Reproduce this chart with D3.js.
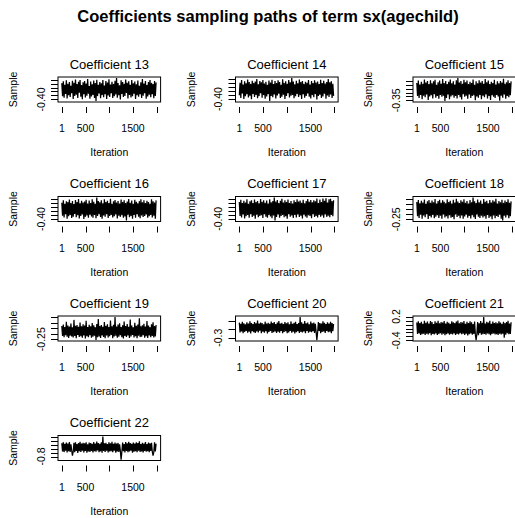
<!DOCTYPE html>
<html>
<head>
<meta charset="utf-8">
<script src="https://cdn.jsdelivr.net/npm/d3@7"></script>
<style>
  html, body { margin: 0; padding: 0; background: #fff; }
  svg { display: block; }
  text { font-family: "Liberation Sans", Arial, sans-serif; fill: #000; }
</style>
</head>
<body>
<script>
// MCMC trace plots: sampled coefficients of the smooth term, 4 x 3 grid.
const mainTitle = "Coefficients sampling paths of term sx(agechild)";
const coefficients = [13, 14, 15, 16, 17, 18, 19, 20, 21, 22];

// Stored (thinned) iteration indices of the chain.
const iterations = d3.range(1, 2001, 16);
const xTicks = [1, 500, 1000, 1500, 2000];
const xTickLabels = ["1", "500", "", "1500", ""];

const samples13 = [-0.318,-0.384,-0.309,-0.391,-0.326,-0.372,-0.304,-0.395,-0.321,-0.379,
  -0.313,-0.388,-0.331,-0.369,-0.306,-0.398,-0.316,-0.382,-0.300,-0.376,
  -0.323,-0.393,-0.311,-0.366,-0.302,-0.386,-0.328,-0.399,-0.314,-0.374,
  -0.307,-0.390,-0.320,-0.381,-0.297,-0.371,-0.333,-0.396,-0.310,-0.385,
  -0.324,-0.377,-0.305,-0.392,-0.317,-0.408,-0.301,-0.383,-0.327,-0.370,
  -0.312,-0.394,-0.319,-0.378,-0.303,-0.389,-0.330,-0.373,-0.308,-0.397,
  -0.315,-0.380,-0.299,-0.387,-0.325,-0.368,-0.311,-0.393,-0.322,-0.384,
  -0.306,-0.375,-0.292,-0.391,-0.318,-0.379,-0.329,-0.400,-0.304,-0.372,
  -0.313,-0.388,-0.321,-0.382,-0.300,-0.367,-0.316,-0.395,-0.309,-0.377,
  -0.326,-0.390,-0.302,-0.384,-0.319,-0.371,-0.310,-0.398,-0.324,-0.379,
  -0.305,-0.386,-0.332,-0.374,-0.314,-0.392,-0.298,-0.381,-0.320,-0.369,
  -0.308,-0.396,-0.327,-0.385,-0.312,-0.376,-0.303,-0.389,-0.317,-0.373,
  -0.323,-0.394,-0.307,-0.383,-0.315];
const samples14 = [-0.381,-0.318,-0.395,-0.305,-0.372,-0.327,-0.399,-0.311,-0.386,-0.321,
  -0.376,-0.302,-0.392,-0.315,-0.383,-0.324,-0.401,-0.308,-0.374,-0.319,
  -0.389,-0.312,-0.379,-0.300,-0.396,-0.326,-0.385,-0.309,-0.370,-0.316,
  -0.393,-0.304,-0.380,-0.322,-0.398,-0.313,-0.387,-0.329,-0.375,-0.307,
  -0.410,-0.317,-0.384,-0.303,-0.391,-0.325,-0.377,-0.310,-0.397,-0.320,
  -0.382,-0.306,-0.373,-0.314,-0.394,-0.328,-0.388,-0.301,-0.378,-0.319,
  -0.400,-0.311,-0.385,-0.323,-0.371,-0.305,-0.392,-0.316,-0.383,-0.294,
  -0.379,-0.312,-0.396,-0.326,-0.386,-0.308,-0.374,-0.321,-0.390,-0.302,
  -0.381,-0.315,-0.399,-0.309,-0.376,-0.324,-0.393,-0.313,-0.384,-0.318,
  -0.372,-0.304,-0.388,-0.327,-0.397,-0.310,-0.380,-0.320,-0.391,-0.306,
  -0.375,-0.317,-0.402,-0.312,-0.385,-0.325,-0.378,-0.303,-0.394,-0.319,
  -0.387,-0.308,-0.373,-0.322,-0.398,-0.314,-0.382,-0.300,-0.389,-0.316,
  -0.377,-0.311,-0.395,-0.323,-0.384];
const samples15 = [-0.305,-0.339,-0.299,-0.344,-0.309,-0.336,-0.302,-0.347,-0.307,-0.338,
  -0.296,-0.342,-0.304,-0.335,-0.300,-0.349,-0.308,-0.340,-0.298,-0.337,
  -0.306,-0.345,-0.301,-0.334,-0.297,-0.343,-0.310,-0.339,-0.303,-0.346,
  -0.299,-0.336,-0.307,-0.341,-0.295,-0.338,-0.305,-0.352,-0.300,-0.344,
  -0.308,-0.335,-0.302,-0.347,-0.296,-0.340,-0.306,-0.337,-0.301,-0.343,
  -0.309,-0.339,-0.298,-0.345,-0.292,-0.336,-0.304,-0.342,-0.300,-0.348,
  -0.307,-0.334,-0.297,-0.341,-0.303,-0.338,-0.299,-0.346,-0.308,-0.335,
  -0.302,-0.344,-0.305,-0.339,-0.296,-0.337,-0.310,-0.350,-0.301,-0.340,
  -0.306,-0.343,-0.298,-0.336,-0.304,-0.347,-0.300,-0.338,-0.307,-0.342,
  -0.295,-0.335,-0.303,-0.345,-0.299,-0.339,-0.308,-0.349,-0.302,-0.337,
  -0.305,-0.341,-0.297,-0.344,-0.309,-0.336,-0.301,-0.340,-0.306,-0.351,
  -0.300,-0.338,-0.304,-0.343,-0.294,-0.335,-0.307,-0.346,-0.303,-0.339,
  -0.298,-0.342,-0.305,-0.337,-0.301];
const samples16 = [-0.317,-0.383,-0.305,-0.392,-0.322,-0.376,-0.310,-0.398,-0.314,-0.386,
  -0.301,-0.379,-0.319,-0.395,-0.308,-0.388,-0.324,-0.374,-0.303,-0.391,
  -0.313,-0.381,-0.298,-0.397,-0.320,-0.385,-0.307,-0.377,-0.316,-0.400,
  -0.311,-0.389,-0.302,-0.382,-0.321,-0.394,-0.306,-0.378,-0.318,-0.387,
  -0.299,-0.393,-0.312,-0.380,-0.323,-0.396,-0.290,-0.384,-0.309,-0.375,
  -0.315,-0.390,-0.304,-0.399,-0.320,-0.382,-0.300,-0.388,-0.313,-0.376,
  -0.307,-0.395,-0.318,-0.385,-0.297,-0.379,-0.322,-0.392,-0.310,-0.386,
  -0.303,-0.377,-0.316,-0.397,-0.308,-0.383,-0.321,-0.389,-0.301,-0.381,
  -0.314,-0.394,-0.305,-0.387,-0.319,-0.408,-0.311,-0.378,-0.298,-0.391,
  -0.317,-0.384,-0.306,-0.399,-0.323,-0.380,-0.302,-0.393,-0.312,-0.376,
  -0.320,-0.388,-0.309,-0.396,-0.300,-0.382,-0.315,-0.390,-0.304,-0.385,
  -0.318,-0.377,-0.307,-0.394,-0.313,-0.386,-0.322,-0.379,-0.299,-0.392,
  -0.310,-0.383,-0.316,-0.398,-0.305];
const samples17 = [-0.314,-0.385,-0.303,-0.393,-0.320,-0.378,-0.308,-0.398,-0.317,-0.387,
  -0.300,-0.381,-0.323,-0.395,-0.311,-0.376,-0.306,-0.390,-0.319,-0.384,
  -0.302,-0.399,-0.315,-0.379,-0.309,-0.392,-0.321,-0.386,-0.299,-0.382,
  -0.313,-0.396,-0.305,-0.377,-0.318,-0.389,-0.307,-0.394,-0.322,-0.380,
  -0.301,-0.388,-0.316,-0.397,-0.310,-0.383,-0.291,-0.409,-0.312,-0.391,
  -0.304,-0.378,-0.320,-0.395,-0.308,-0.385,-0.298,-0.380,-0.317,-0.392,
  -0.306,-0.387,-0.314,-0.400,-0.302,-0.376,-0.319,-0.389,-0.310,-0.383,
  -0.322,-0.396,-0.305,-0.381,-0.315,-0.393,-0.300,-0.378,-0.312,-0.390,
  -0.307,-0.384,-0.318,-0.398,-0.303,-0.379,-0.321,-0.388,-0.309,-0.394,
  -0.299,-0.382,-0.313,-0.386,-0.304,-0.397,-0.316,-0.377,-0.306,-0.391,
  -0.311,-0.385,-0.297,-0.393,-0.319,-0.380,-0.302,-0.389,-0.314,-0.383,
  -0.296,-0.395,-0.308,-0.378,-0.295,-0.390,-0.317,-0.384,-0.301,-0.392,
  -0.298,-0.381,-0.310,-0.387,-0.305];
const samples18 = [-0.082,-0.221,-0.064,-0.236,-0.095,-0.205,-0.071,-0.243,-0.088,-0.213,
  -0.058,-0.229,-0.099,-0.201,-0.076,-0.247,-0.062,-0.218,-0.091,-0.233,
  -0.069,-0.207,-0.085,-0.240,-0.053,-0.224,-0.097,-0.211,-0.074,-0.238,
  -0.060,-0.215,-0.089,-0.245,-0.066,-0.203,-0.079,-0.231,-0.094,-0.219,
  -0.056,-0.242,-0.083,-0.209,-0.070,-0.234,-0.098,-0.226,-0.061,-0.249,
  -0.087,-0.204,-0.050,-0.228,-0.077,-0.216,-0.093,-0.239,-0.065,-0.212,
  -0.081,-0.244,-0.057,-0.222,-0.090,-0.206,-0.072,-0.235,-0.096,-0.217,
  -0.063,-0.241,-0.084,-0.210,-0.038,-0.230,-0.075,-0.246,-0.092,-0.202,
  -0.059,-0.225,-0.086,-0.237,-0.068,-0.214,-0.099,-0.232,-0.054,-0.220,
  -0.080,-0.243,-0.071,-0.208,-0.094,-0.236,-0.062,-0.223,-0.088,-0.248,
  -0.066,-0.212,-0.078,-0.239,-0.052,-0.218,-0.097,-0.227,-0.073,-0.205,
  -0.085,-0.244,-0.060,-0.262,-0.091,-0.215,-0.069,-0.233,-0.082,-0.209,
  -0.057,-0.240,-0.089,-0.221,-0.076];
const samples19 = [-0.131,-0.221,-0.118,-0.233,-0.140,-0.214,-0.092,-0.228,-0.126,-0.239,
  -0.136,-0.218,-0.109,-0.226,-0.142,-0.235,-0.075,-0.220,-0.129,-0.241,
  -0.121,-0.212,-0.138,-0.230,-0.098,-0.224,-0.133,-0.237,-0.115,-0.216,
  -0.127,-0.243,-0.084,-0.222,-0.139,-0.231,-0.119,-0.213,-0.134,-0.236,
  -0.104,-0.227,-0.125,-0.219,-0.141,-0.258,-0.112,-0.232,-0.066,-0.225,
  -0.130,-0.238,-0.122,-0.215,-0.137,-0.229,-0.095,-0.242,-0.128,-0.217,
  -0.114,-0.234,-0.140,-0.223,-0.081,-0.211,-0.132,-0.240,-0.120,-0.226,
  -0.048,-0.219,-0.135,-0.236,-0.117,-0.228,-0.106,-0.214,-0.139,-0.233,
  -0.124,-0.244,-0.089,-0.221,-0.131,-0.230,-0.113,-0.216,-0.137,-0.238,
  -0.072,-0.225,-0.127,-0.212,-0.142,-0.235,-0.101,-0.222,-0.129,-0.241,
  -0.118,-0.218,-0.060,-0.231,-0.134,-0.227,-0.123,-0.213,-0.110,-0.237,
  -0.136,-0.224,-0.086,-0.239,-0.126,-0.215,-0.141,-0.232,-0.115,-0.220,
  -0.097,-0.234,-0.130,-0.226,-0.121];
const samples20 = [-0.121,-0.236,-0.134,-0.224,-0.112,-0.245,-0.128,-0.230,-0.140,-0.219,
  -0.117,-0.240,-0.131,-0.227,-0.106,-0.248,-0.125,-0.221,-0.137,-0.234,
  -0.114,-0.243,-0.129,-0.226,-0.098,-0.238,-0.133,-0.217,-0.119,-0.246,
  -0.126,-0.229,-0.141,-0.241,-0.110,-0.222,-0.132,-0.250,-0.123,-0.232,
  -0.136,-0.219,-0.108,-0.244,-0.127,-0.235,-0.115,-0.225,-0.139,-0.242,
  -0.120,-0.228,-0.102,-0.239,-0.131,-0.220,-0.124,-0.247,-0.137,-0.231,
  -0.113,-0.223,-0.129,-0.245,-0.118,-0.236,-0.142,-0.218,-0.107,-0.240,
  -0.134,-0.227,-0.122,-0.249,-0.111,-0.233,-0.138,-0.221,-0.126,-0.243,
  -0.054,-0.230,-0.116,-0.237,-0.135,-0.224,-0.103,-0.246,-0.128,-0.219,
  -0.119,-0.241,-0.140,-0.229,-0.109,-0.234,-0.130,-0.222,-0.121,-0.244,
  -0.136,-0.226,-0.327,-0.238,-0.114,-0.220,-0.127,-0.247,-0.133,-0.232,
  -0.105,-0.225,-0.124,-0.242,-0.139,-0.218,-0.117,-0.235,-0.131,-0.228,
  -0.112,-0.245,-0.125,-0.223,-0.137];
const samples21 = [0.052,-0.238,0.081,-0.221,0.034,-0.259,0.067,-0.244,0.018,-0.228,
  0.092,-0.265,0.045,-0.232,0.073,-0.250,0.026,-0.219,0.085,-0.271,
  0.059,-0.236,0.011,-0.247,0.078,-0.225,0.040,-0.262,0.096,-0.240,
  0.031,-0.216,0.064,-0.255,0.050,-0.230,0.088,-0.268,0.022,-0.243,
  0.070,-0.227,0.043,-0.258,0.015,-0.235,0.083,-0.249,0.056,-0.222,
  0.036,-0.264,0.075,-0.239,0.101,-0.252,0.028,-0.218,0.062,-0.246,
  0.047,-0.233,0.090,-0.260,0.020,-0.229,0.069,-0.273,0.038,-0.241,
  0.080,-0.224,0.054,-0.256,0.013,-0.237,0.072,-0.248,-0.390,-0.231,
  0.060,-0.266,0.033,-0.220,0.087,-0.253,0.044,-0.242,0.190,-0.234,
  0.025,-0.257,0.066,-0.226,0.051,-0.245,0.094,-0.269,0.017,-0.236,
  0.077,-0.223,0.039,-0.251,0.058,-0.240,0.029,-0.263,0.082,-0.228,
  0.048,-0.247,0.016,-0.232,0.071,-0.330,0.035,-0.254,0.063,-0.221,
  0.091,-0.244,0.024,-0.238,0.055];
const samples22 = [-0.468,-0.672,-0.441,-0.689,-0.483,-0.655,-0.452,-0.701,-0.475,-0.664,
  -0.437,-0.683,-0.496,-0.648,-0.780,-0.677,-0.459,-0.694,-0.446,-0.660,
  -0.488,-0.712,-0.463,-0.669,-0.432,-0.686,-0.478,-0.652,-0.455,-0.697,
  -0.471,-0.663,-0.443,-0.705,-0.492,-0.674,-0.450,-0.688,-0.466,-0.658,
  -0.485,-0.699,-0.439,-0.667,-0.476,-0.681,-0.425,-0.650,-0.461,-0.693,
  -0.480,-0.670,-0.447,-0.708,-0.297,-0.661,-0.470,-0.684,-0.456,-0.654,
  -0.490,-0.696,-0.442,-0.676,-0.467,-0.665,-0.434,-0.690,-0.482,-0.657,
  -0.453,-0.703,-0.474,-0.671,-0.460,-0.687,-0.494,-0.659,-0.877,-0.680,
  -0.448,-0.668,-0.487,-0.698,-0.438,-0.662,-0.472,-0.692,-0.429,-0.675,
  -0.465,-0.653,-0.484,-0.706,-0.451,-0.679,-0.477,-0.666,-0.444,-0.691,
  -0.462,-0.656,-0.420,-0.685,-0.489,-0.673,-0.457,-0.700,-0.473,-0.663,
  -0.440,-0.682,-0.486,-0.669,-0.449,-0.694,-0.469,-0.660,-0.458,-0.677,
  -0.780,-0.688,-0.445,-0.672,-0.481];

// y-axis ticks for each panel; only labels that do not collide are printed
const yTicks13 = [-0.40, -0.38, -0.36, -0.34, -0.32, -0.30];
const yTicks14 = [-0.40, -0.38, -0.36, -0.34, -0.32, -0.30];
const yTicks15 = [-0.35, -0.34, -0.33, -0.32, -0.31, -0.30];
const yTicks16 = [-0.40, -0.38, -0.36, -0.34, -0.32, -0.30];
const yTicks17 = [-0.40, -0.38, -0.36, -0.34, -0.32, -0.30];
const yTicks18 = [-0.25, -0.20, -0.15, -0.10, -0.05];
const yTicks19 = [-0.25, -0.20, -0.15, -0.10, -0.05];
const yTicks20 = [-0.3, -0.2, -0.1];
const yTicks21 = [-0.4, -0.3, -0.2, -0.1, 0.0, 0.1, 0.2];
const yTicks22 = [-0.8, -0.7, -0.6, -0.5, -0.4, -0.3];
const yTickLabels13 = ["-0.40", "", "", "", "", ""];
const yTickLabels14 = ["-0.40", "", "", "", "", ""];
const yTickLabels15 = ["-0.35", "", "", "", "", ""];
const yTickLabels16 = ["-0.40", "", "", "", "", ""];
const yTickLabels17 = ["-0.40", "", "", "", "", ""];
const yTickLabels18 = ["-0.25", "", "", "", ""];
const yTickLabels19 = ["-0.25", "", "", "", ""];
const yTickLabels20 = ["-0.3", "", ""];
const yTickLabels21 = ["-0.4", "", "", "", "", "", "0.2"];
const yTickLabels22 = ["-0.8", "", "", "", "", ""];

const panels = [
  { coef: 13, values: samples13, ticks: yTicks13, labels: yTickLabels13 },
  { coef: 14, values: samples14, ticks: yTicks14, labels: yTickLabels14 },
  { coef: 15, values: samples15, ticks: yTicks15, labels: yTickLabels15 },
  { coef: 16, values: samples16, ticks: yTicks16, labels: yTickLabels16 },
  { coef: 17, values: samples17, ticks: yTicks17, labels: yTickLabels17 },
  { coef: 18, values: samples18, ticks: yTicks18, labels: yTickLabels18 },
  { coef: 19, values: samples19, ticks: yTicks19, labels: yTickLabels19 },
  { coef: 20, values: samples20, ticks: yTicks20, labels: yTickLabels20 },
  { coef: 21, values: samples21, ticks: yTicks21, labels: yTickLabels21 },
  { coef: 22, values: samples22, ticks: yTicks22, labels: yTickLabels22 }
];

// ---- layout ----
const W = 515, H = 518;
const colStep = 177.5, rowStep = 119.5;
const boxLeft0 = 58, boxTop0 = 77;
const boxW = 102.6, boxH = 25;

const svg = d3.select("body").append("svg")
  .attr("width", W).attr("height", H)
  .attr("viewBox", `0 0 ${W} ${H}`);
svg.append("rect").attr("width", W).attr("height", H).attr("fill", "#fff");

svg.append("text")
  .attr("x", 268).attr("y", 22)
  .attr("text-anchor", "middle")
  .attr("font-size", 16.5).attr("font-weight", "bold")
  .text(mainTitle);

// pads a range by 4% on each side, like R's default axis style
function padded(lo, hi) {
  const p = (hi - lo) * 0.04;
  return [lo - p, hi + p];
}

panels.forEach((p, i) => {
  const col = i % 3, row = Math.floor(i / 3);
  const left = boxLeft0 + col * colStep;
  const top = boxTop0 + row * rowStep;
  const bottom = top + boxH;

  const x = d3.scaleLinear().domain(padded(1, 2000)).range([left, left + boxW]);
  const ext = d3.extent(p.values);
  const y = d3.scaleLinear().domain(padded(ext[0], ext[1])).range([bottom, top]);

  const g = svg.append("g");

  // sampling path
  const line = d3.line()
    .defined((d, k) => k < iterations.length)
    .x((d, k) => x(iterations[k]))
    .y(d => y(d));
  g.append("path")
    .datum(p.values)
    .attr("d", line)
    .attr("fill", "none")
    .attr("stroke", "#000")
    .attr("stroke-width", 1.25)
    .attr("stroke-linejoin", "bevel");

  // frame
  g.append("rect")
    .attr("x", left).attr("y", top)
    .attr("width", boxW).attr("height", boxH)
    .attr("fill", "none").attr("stroke", "#000").attr("stroke-width", 1);

  // x axis: ticks set slightly below the frame
  xTicks.forEach((t, k) => {
    const xx = Math.round(x(t)) + 0.5;
    g.append("line")
      .attr("x1", xx).attr("x2", xx)
      .attr("y1", bottom + 5).attr("y2", bottom + 11)
      .attr("stroke", "#000");
    if (xTickLabels[k]) {
      g.append("text")
        .attr("x", x(t)).attr("y", bottom + 30)
        .attr("text-anchor", "middle")
        .attr("font-size", 10.5)
        .text(xTickLabels[k]);
    }
  });

  // y axis
  const dom = y.domain();
  p.ticks.forEach((t, k) => {
    if (t < dom[0] || t > dom[1]) return;
    const yy = Math.round(y(t)) + 0.5;
    g.append("line")
      .attr("x1", left - 7).attr("x2", left)
      .attr("y1", yy).attr("y2", yy)
      .attr("stroke", "#000");
    if (p.labels[k]) {
      g.append("text")
        .attr("transform", `translate(${left - 13.5},${y(t)}) rotate(-90)`)
        .attr("text-anchor", "middle")
        .attr("font-size", 10.5)
        .text(p.labels[k]);
    }
  });

  // titles and axis labels
  g.append("text")
    .attr("x", left + boxW / 2).attr("y", top - 8.5)
    .attr("text-anchor", "middle")
    .attr("font-size", 13)
    .text("Coefficient " + p.coef);

  g.append("text")
    .attr("x", left + boxW / 2).attr("y", bottom + 54)
    .attr("text-anchor", "middle")
    .attr("font-size", 10.5)
    .text("Iteration");

  g.append("text")
    .attr("transform", `translate(${left - 41},${top + boxH / 2}) rotate(-90)`)
    .attr("text-anchor", "middle")
    .attr("font-size", 10.5)
    .text("Sample");
});
</script>
</body>
</html>
